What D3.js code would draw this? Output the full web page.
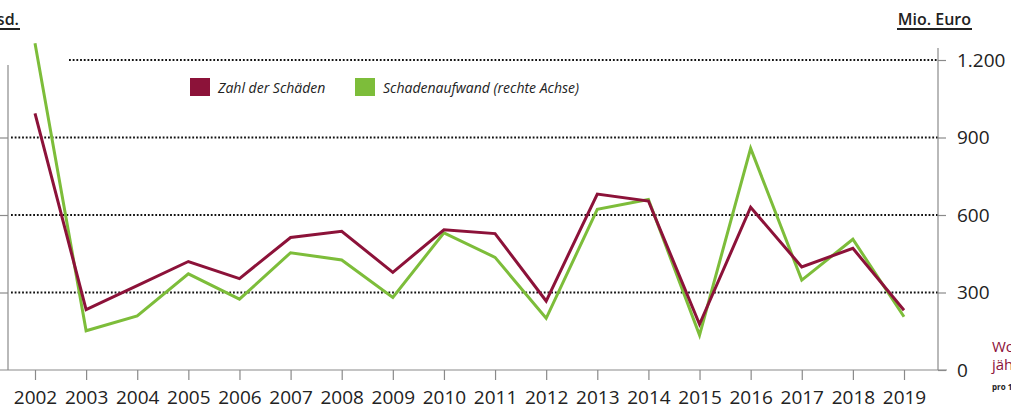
<!DOCTYPE html>
<html>
<head>
<meta charset="utf-8">
<script src="https://cdn.jsdelivr.net/npm/d3@7"></script>
<style>
  body { margin: 0; background: #fff; }
  svg { display: block; }
  .axis text { font-family: "Open Sans", sans-serif; font-size: 19px; fill: #222; }
  .axis line, .axis path { stroke: #8a8a8a; stroke-width: 1.2; }
</style>
</head>
<body>
<div id="chart"></div>
<script>
// jahre und werte
const years = [2002, 2003, 2004, 2005, 2006, 2007, 2008, 2009, 2010, 2011, 2012, 2013, 2014, 2015, 2016, 2017, 2018, 2019];
// Zahl der Schäden, Tsd. (linke Achse)
const zahlSchaeden = [331, 78, 109, 140, 118, 171, 179, 126, 181, 176, 89, 227, 218, 59, 210, 133, 157, 77];
// Schadenaufwand, Mio. Euro (rechte Achse)
const schadenaufwand = [1265, 152, 209, 372, 274, 454, 426, 281, 531, 436, 200, 622, 660, 135, 858, 348, 506, 206];
const rightTicks = [0, 300, 600, 900, 1200];
const leftTicks = [100, 200, 300];
const gridTicks = [300, 600, 900, 1200];

const width = 1011, height = 411;
const maroon = '#8c1239', green = '#7dbd3a';

const svg = d3.select('#chart').append('svg')
	.attr('width', width)
	.attr('height', height);

const x = d3.scaleLinear().domain([2002, 2019]).range([35, 904]);
const yRight = d3.scaleLinear().domain([0, 1200]).range([370, 60]);
const yLeft = d3.scaleLinear().domain([0, 400]).range([370, 60]);

const de = d3.formatLocale({ decimal: ',', thousands: '.', grouping: [3], currency: ['', ' €'] });

// dotted grid lines
svg.append('g').selectAll('line')
	.data(gridTicks)
	.join('line')
	.attr('x1', d => d === 1200 ? 69 : 11)
	.attr('x2', 938)
	.attr('y1', d => yRight(d))
	.attr('y2', d => yRight(d))
	.attr('stroke', '#111')
	.attr('stroke-width', 1.8)
	.attr('stroke-dasharray', '1.8 1.9');

// x axis
const xAxis = svg.append('g')
	.attr('class', 'axis')
	.attr('transform', `translate(0, ${yRight(0)})`)
	.call(d3.axisBottom(x).tickValues(years).tickFormat(d3.format('d')).tickSize(10).tickPadding(11).tickSizeOuter(0));
xAxis.select('.domain').remove();
xAxis.append('line')
	.attr('x1', 0).attr('x2', 947)
	.attr('y1', 0).attr('y2', 0);

// right axis
const rAxis = svg.append('g')
	.attr('class', 'axis')
	.attr('transform', 'translate(938, 0)')
	.call(d3.axisRight(yRight).tickValues(rightTicks).tickFormat(de.format(',')).tickSize(8).tickPadding(11));
rAxis.select('.domain').remove();
rAxis.append('line')
	.attr('x1', 0).attr('x2', 0)
	.attr('y1', yRight(1200) - 12).attr('y2', yRight(0));

// left axis (its labels lie outside the picture, only the ticks show)
const lAxis = svg.append('g')
	.attr('class', 'axis')
	.attr('transform', 'translate(8, 0)')
	.call(d3.axisLeft(yLeft).tickValues(leftTicks).tickSize(8).tickFormat(''));
lAxis.select('.domain').remove();
lAxis.append('line')
	.attr('x1', 0).attr('x2', 0)
	.attr('y1', 65).attr('y2', yLeft(0));

// unit labels
svg.append('text')
	.attr('x', 19).attr('y', 25)
	.attr('text-anchor', 'end')
	.style('font-family', '"Open Sans", sans-serif')
	.style('font-size', '16px')
	.style('font-weight', 600)
	.attr('fill', '#222')
	.text('Tsd.');
svg.append('line')
	.attr('x1', 0).attr('x2', 20).attr('y1', 29).attr('y2', 29)
	.attr('stroke', '#222').attr('stroke-width', 2);

svg.append('text')
	.attr('x', 971).attr('y', 25)
	.attr('text-anchor', 'end')
	.style('font-family', '"Open Sans", sans-serif')
	.style('font-size', '16px')
	.style('font-weight', 600)
	.attr('fill', '#222')
	.text('Mio. Euro');
svg.append('line')
	.attr('x1', 897).attr('x2', 972).attr('y1', 29).attr('y2', 29)
	.attr('stroke', '#222').attr('stroke-width', 2);

// lines
const lineLeft = d3.line().x((d, i) => x(years[i])).y(d => yLeft(d));
const lineRight = d3.line().x((d, i) => x(years[i])).y(d => yRight(d));

svg.append('path')
	.datum(schadenaufwand)
	.attr('d', lineRight)
	.attr('fill', 'none')
	.attr('stroke', green)
	.attr('stroke-width', 3);

svg.append('path')
	.datum(zahlSchaeden)
	.attr('d', lineLeft)
	.attr('fill', 'none')
	.attr('stroke', maroon)
	.attr('stroke-width', 3);

// legend
const legendItems = [
	{ label: 'Zahl der Schäden', color: maroon, x: 190 },
	{ label: 'Schadenaufwand (rechte Achse)', color: green, x: 355 }
];
const legend = svg.append('g').selectAll('g')
	.data(legendItems)
	.join('g')
	.attr('transform', d => `translate(${d.x}, 78)`);
legend.append('rect')
	.attr('width', 20).attr('height', 18)
	.attr('fill', d => d.color);
legend.append('text')
	.attr('x', 28).attr('y', 15)
	.style('font-family', '"Open Sans", sans-serif')
	.style('font-size', '14px')
	.style('font-style', 'italic')
	.attr('fill', '#222')
	.text(d => d.label);

// text cut off at the right edge
const side = svg.append('g')
	.style('font-family', '"Open Sans", sans-serif')
	.attr('fill', maroon);
side.append('text').attr('x', 992).attr('y', 352).style('font-size', '15px').text('Wohngebäude');
side.append('text').attr('x', 992).attr('y', 370).style('font-size', '15px').text('jährlich');
svg.append('text')
	.attr('x', 992).attr('y', 390)
	.style('font-family', '"Open Sans", sans-serif')
	.style('font-size', '8px')
	.style('font-weight', 700)
	.attr('fill', '#222')
	.text('pro 1.000 Verträge');
</script>
</body>
</html>
